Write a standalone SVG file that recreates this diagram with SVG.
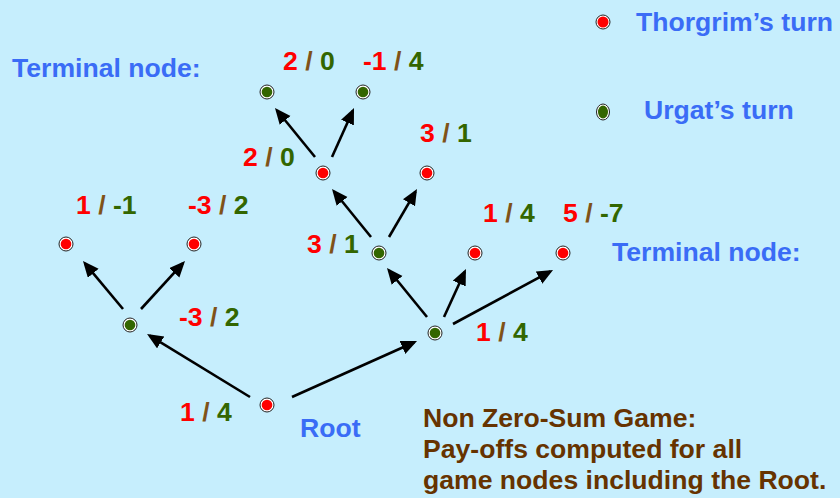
<svg xmlns="http://www.w3.org/2000/svg" width="840" height="498" viewBox="0 0 840 498">
<style>
text{font-family:"Liberation Sans",Arial,sans-serif;font-weight:bold;font-size:26.6px}
.r{fill:#FF0000}.g{fill:#336600}.s{fill:#7F5217}
.blue{fill:#3A6CF6}.brown{fill:#663300}
.ring{fill:#FFFFFF;stroke:#222222;stroke-width:1}
.red{fill:#FF0000}.grn{fill:#336600}
.edge{stroke:#000000;stroke-width:2.6;fill:none;marker-end:url(#ah)}
</style>
<defs>
<marker id="ah" markerUnits="userSpaceOnUse" markerWidth="17" markerHeight="15" refX="13" refY="7" orient="auto">
<path d="M0,0 L16,7 L0,14 Z" fill="#000000"/>
</marker>
</defs>
<rect x="0" y="0" width="840" height="498" fill="#C6EEFD"/>

<g id="connectors">
<line class="edge" x1="250" y1="397" x2="149.6" y2="335.6"/>
<line class="edge" x1="292" y1="397" x2="414.3" y2="342.2"/>
<line class="edge" x1="123" y1="309" x2="84.9" y2="263.3"/>
<line class="edge" x1="141" y1="309" x2="183" y2="263.2"/>
<line class="edge" x1="427" y1="317" x2="388.9" y2="270.3"/>
<line class="edge" x1="444" y1="317" x2="464.7" y2="271.7"/>
<line class="edge" x1="453" y1="324" x2="550.4" y2="271.4"/>
<line class="edge" x1="371" y1="237" x2="333.9" y2="191.3"/>
<line class="edge" x1="389" y1="237" x2="415.5" y2="191.6"/>
<line class="edge" x1="315" y1="157" x2="276.9" y2="110.3"/>
<line class="edge" x1="332" y1="157" x2="352.8" y2="110.7"/>
</g>

<g id="root">
<circle class="ring" cx="267" cy="405" r="7"/><circle class="red" cx="267" cy="405" r="5.3"/>
<text x="180" y="421"><tspan class="r">1</tspan><tspan class="s"> / </tspan><tspan class="g">4</tspan></text>
<text class="blue" x="300" y="437">Root</text>
</g>

<g id="nodeL">
<circle class="ring" cx="130" cy="325" r="7"/><circle class="grn" cx="130" cy="325" r="5.3"/>
<text x="179" y="326"><tspan class="r">-3</tspan><tspan class="s"> / </tspan><tspan class="g">2</tspan></text>
</g>

<g id="nodeLL">
<circle class="ring" cx="66" cy="244" r="7"/><circle class="red" cx="66" cy="244" r="5.3"/>
<text x="76" y="214"><tspan class="r">1</tspan><tspan class="s"> / </tspan><tspan class="g">-1</tspan></text>
</g>

<g id="nodeLR">
<circle class="ring" cx="194" cy="244" r="7"/><circle class="red" cx="194" cy="244" r="5.3"/>
<text x="188" y="214"><tspan class="r">-3</tspan><tspan class="s"> / </tspan><tspan class="g">2</tspan></text>
</g>

<g id="nodeR">
<circle class="ring" cx="435" cy="333" r="7"/><circle class="grn" cx="435" cy="333" r="5.3"/>
<text x="476" y="341"><tspan class="r">1</tspan><tspan class="s"> / </tspan><tspan class="g">4</tspan></text>
</g>

<g id="nodeRM">
<circle class="ring" cx="379" cy="253" r="7"/><circle class="grn" cx="379" cy="253" r="5.3"/>
<text x="307" y="253"><tspan class="r">3</tspan><tspan class="s"> / </tspan><tspan class="g">1</tspan></text>
</g>

<g id="nodeR2">
<circle class="ring" cx="475" cy="253" r="7"/><circle class="red" cx="475" cy="253" r="5.3"/>
<text x="483" y="222"><tspan class="r">1</tspan><tspan class="s"> / </tspan><tspan class="g">4</tspan></text>
</g>

<g id="nodeR3">
<circle class="ring" cx="563" cy="253" r="7"/><circle class="red" cx="563" cy="253" r="5.3"/>
<text x="563" y="222"><tspan class="r">5</tspan><tspan class="s"> / </tspan><tspan class="g">-7</tspan></text>
</g>

<g id="nodeM">
<circle class="ring" cx="323" cy="173" r="7"/><circle class="red" cx="323" cy="173" r="5.3"/>
<text x="243" y="166"><tspan class="r">2</tspan><tspan class="s"> / </tspan><tspan class="g">0</tspan></text>
</g>

<g id="nodeM2">
<circle class="ring" cx="427" cy="173" r="7"/><circle class="red" cx="427" cy="173" r="5.3"/>
<text x="420" y="142"><tspan class="r">3</tspan><tspan class="s"> / </tspan><tspan class="g">1</tspan></text>
</g>

<g id="nodeT1">
<circle class="ring" cx="267" cy="92" r="7"/><circle class="grn" cx="267" cy="92" r="5.3"/>
<text x="283" y="70"><tspan class="r">2</tspan><tspan class="s"> / </tspan><tspan class="g">0</tspan></text>
</g>

<g id="nodeT2">
<circle class="ring" cx="363" cy="92" r="7"/><circle class="grn" cx="363" cy="92" r="5.3"/>
<text x="363" y="70"><tspan class="r">-1</tspan><tspan class="s"> / </tspan><tspan class="g">4</tspan></text>
</g>

<g id="labels">
<text class="blue" x="12" y="77">Terminal node:</text>
<text class="blue" x="612" y="261">Terminal node:</text>
<text class="brown" x="423" y="427">Non Zero-Sum Game:</text>
<text class="brown" x="423" y="458">Pay-offs computed for all</text>
<text class="brown" x="423" y="489">game nodes including the Root.</text>
</g>

<g id="legend">
<ellipse class="ring" cx="603" cy="22" rx="7" ry="7"/><ellipse class="red" cx="603" cy="22" rx="5.5" ry="5.5"/>
<text class="blue" x="636" y="31">Thorgrim’s turn</text>
<ellipse class="ring" cx="603" cy="112" rx="6.5" ry="8"/><ellipse class="grn" cx="603" cy="112" rx="5" ry="6.5"/>
<text class="blue" x="644" y="119">Urgat’s turn</text>
</g>
</svg>
